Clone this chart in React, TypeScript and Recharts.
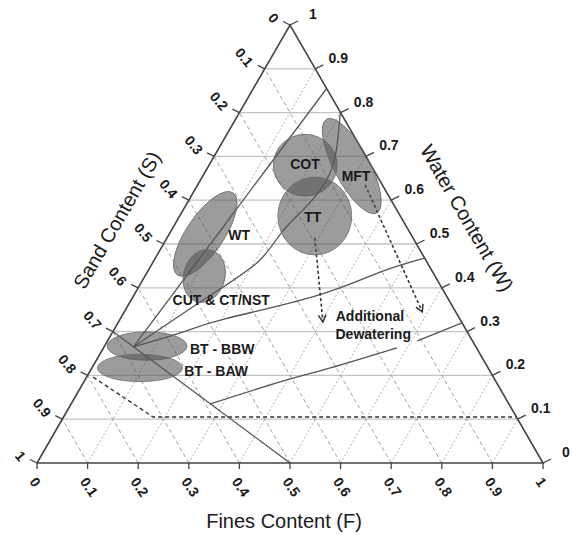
import { ComposedChart, XAxis, YAxis, Line, Scatter, ReferenceLine } from "recharts";

// ternary diagram: F = fines (bottom), W = water (vertical), S = sand = 1 - F - W
const CHART_W = 572;
const CHART_H = 535;
const MARGIN = { top: 25, right: 29, bottom: 72, left: 37 };
const PW = CHART_W - MARGIN.left - MARGIN.right;
const PH = CHART_H - MARGIN.top - MARGIN.bottom;

const TICKS = [0, 0.1, 0.2, 0.3, 0.4, 0.5, 0.6, 0.7, 0.8, 0.9, 1];
const TICK_LABELS = ["0", "0.1", "0.2", "0.3", "0.4", "0.5", "0.6", "0.7", "0.8", "0.9", "1"];
const GRID = [0.1, 0.2, 0.3, 0.4, 0.5, 0.6, 0.7, 0.8, 0.9];

// [F, W] points
const EDGE = [[0, 0], [1, 0], [0, 1], [0, 0]];
const LINE_L0 = [[0, 0.3], [0.5, 0]];
const LINE_A = [[0.058, 0.265], [0.145, 0.855]];
const CURVE_B = [
  [0.058, 0.265], [0.148, 0.379], [0.207, 0.459], [0.22, 0.525], [0.237, 0.578],
  [0.248, 0.623], [0.247, 0.669], [0.23, 0.726], [0.199, 0.801],
];
const CURVE_C = [[0.058, 0.265], [0.134, 0.297], [0.207, 0.329], [0.359, 0.381], [0.46, 0.436], [0.532, 0.468]];
const CURVE_E1 = [[0.275, 0.135], [0.388, 0.185], [0.471, 0.217], [0.58, 0.263]];
const CURVE_E2 = [[0.612, 0.279], [0.68, 0.32]];
const DASH_LIMIT = [[0.013, 0.196], [0.177, 0.105], [0.895, 0.105]];
const ARROW_TT = [[0.292, 0.514], [0.404, 0.322]];
const ARROW_MFT = [[0.331, 0.635], [0.589, 0.345]];

const ELLIPSES = [
  { name: "COT", f: 0.19, w: 0.68, a: 0.063, b: 0.061, angle: 0 },
  { name: "TT", f: 0.267, w: 0.564, a: 0.073, b: 0.077, angle: 0 },
  { name: "MFT", f: 0.283, w: 0.678, a: 0.105, b: 0.035, angle: 62 },
  { name: "WT", f: 0.071, w: 0.523, a: 0.098, b: 0.037, angle: -56 },
  { name: "CUT", f: 0.117, w: 0.427, a: 0.053, b: 0.041, angle: -75 },
  { name: "BBW", f: 0.084, w: 0.267, a: 0.079, b: 0.028, angle: 0 },
  { name: "BAW", f: 0.095, w: 0.217, a: 0.084, b: 0.027, angle: 0 },
];

const REGION_LABELS = [
  { text: "COT", f: 0.188, w: 0.683 },
  { text: "MFT", f: 0.303, w: 0.655 },
  { text: "TT", f: 0.264, w: 0.562 },
  { text: "WT", f: 0.139, w: 0.521 },
  { text: "CUT & CT/NST", f: 0.178, w: 0.372 },
  { text: "BT - BBW", f: 0.236, w: 0.26 },
  { text: "BT - BAW", f: 0.249, w: 0.21 },
  { text: "Additional", f: 0.49, w: 0.336 },
  { text: "Dewatering", f: 0.517, w: 0.295 },
];

const pt = ([f, w]: number[]) => ({ x: f + w / 2, y: w });

const FONT = "'Liberation Sans', Arial, sans-serif";
const INK = "#1a1a1a";

const seg = (a: number[], b: number[]) => [pt(a), pt(b)];

const gridSegs = [
  ...GRID.map((g) => ({ s: seg([0, g], [1 - g, g]), kind: "h" })),
  ...GRID.map((g) => ({ s: seg([g, 0], [g, 1 - g]), kind: "f" })),
  ...GRID.map((g) => ({ s: seg([1 - g, 0], [0, 1 - g]), kind: "s" })),
];

const gridStyle: Record<string, any> = {
  h: { stroke: "#c4c4c4", strokeWidth: 1.3 },
  f: { stroke: "#b0b0b0", strokeWidth: 1, strokeDasharray: "2 2" },
  s: { stroke: "#a0a0a0", strokeWidth: 1, strokeDasharray: "4 3" },
};

function arrowDot(data: { x: number; y: number }[]) {
  return (p: any) => {
    if (p.index !== data.length - 1) return <g key={p.index} />;
    const a = data[p.index - 1];
    const b = data[p.index];
    const ang = Math.atan2(-(b.y - a.y) * PH, (b.x - a.x) * PW);
    const len = 8;
    const s = 0.5;
    const p1 = [p.cx - len * Math.cos(ang - s), p.cy - len * Math.sin(ang - s)];
    const p2 = [p.cx - len * Math.cos(ang + s), p.cy - len * Math.sin(ang + s)];
    return (
      <path
        key={p.index}
        d={`M${p1[0]},${p1[1]}L${p.cx},${p.cy}L${p2[0]},${p2[1]}`}
        fill="none"
        stroke="#333"
        strokeWidth={1.5}
      />
    );
  };
}

const ellipseData = ELLIPSES.map((e) => ({ ...pt([e.f, e.w]), ...e }));
const labelData = REGION_LABELS.map((l) => ({ ...pt([l.f, l.w]), ...l }));
const bottomTicks = TICKS.map((t, i) => ({ ...pt([t, 0]), label: TICK_LABELS[i] }));
const leftTicks = TICKS.map((t, i) => ({ ...pt([0, 1 - t]), label: TICK_LABELS[i] }));
const rightTicks = TICKS.map((t, i) => ({ ...pt([1 - t, t]), label: TICK_LABELS[i] }));

const tickText = { fontFamily: FONT, fontSize: 14, fontWeight: 700, fill: INK };

export default function App() {
  const arrowTT = ARROW_TT.map(pt);
  const arrowMFT = ARROW_MFT.map(pt);
  return (
    <div style={{ position: "relative", width: CHART_W, height: CHART_H }}>
      <style>{"body{margin:0;background:#fff}"}</style>
      <ComposedChart width={CHART_W} height={CHART_H} margin={MARGIN}>
        <XAxis type="number" dataKey="x" domain={[0, 1]} hide />
        <YAxis type="number" dataKey="y" domain={[0, 1]} hide />
        {gridSegs.map((g, i) => (
          <ReferenceLine key={i} segment={g.s} ifOverflow="visible" {...gridStyle[g.kind]} />
        ))}
        <Scatter
          data={ellipseData}
          isAnimationActive={false}
          shape={(p: any) => (
            <ellipse
              cx={p.cx}
              cy={p.cy}
              rx={p.payload.a * PW}
              ry={p.payload.b * PW}
              transform={`rotate(${p.payload.angle} ${p.cx} ${p.cy})`}
              fill="#555"
              fillOpacity={0.58}
              stroke="#6a6a6a"
              strokeWidth={0.8}
            />
          )}
        />
        {[LINE_L0, LINE_A].map((d, i) => (
          <Line key={"l" + i} data={d.map(pt)} dataKey="y" type="linear" stroke="#555" strokeWidth={1.3} dot={false} isAnimationActive={false} />
        ))}
        {[CURVE_B, CURVE_C, CURVE_E1, CURVE_E2].map((d, i) => (
          <Line key={"c" + i} data={d.map(pt)} dataKey="y" type="natural" stroke="#555" strokeWidth={1.3} dot={false} isAnimationActive={false} />
        ))}
        <Line data={DASH_LIMIT.map(pt)} dataKey="y" type="linear" stroke="#333" strokeWidth={1.4} strokeDasharray="4 3" dot={false} isAnimationActive={false} />
        <Line data={arrowTT} dataKey="y" type="linear" stroke="#333" strokeWidth={1.6} strokeDasharray="3 2.5" dot={arrowDot(arrowTT)} isAnimationActive={false} />
        <Line data={arrowMFT} dataKey="y" type="linear" stroke="#333" strokeWidth={1.6} strokeDasharray="3 2.5" dot={arrowDot(arrowMFT)} isAnimationActive={false} />
        <Line data={EDGE.map(pt)} dataKey="y" type="linear" stroke="#444" strokeWidth={1.6} dot={false} isAnimationActive={false} />
        <Scatter
          data={labelData}
          isAnimationActive={false}
          shape={(p: any) => (
            <text x={p.cx} y={p.cy} textAnchor="middle" dominantBaseline="central" fontFamily={FONT} fontSize={14} fontWeight={700} fill={INK}>
              {p.payload.text}
            </text>
          )}
        />
        <Scatter
          data={bottomTicks}
          isAnimationActive={false}
          shape={(p: any) => (
            <g>
              <line x1={p.cx} y1={p.cy} x2={p.cx} y2={p.cy + 6} stroke="#444" strokeWidth={1.3} />
              <text x={p.cx - 4} y={p.cy + 16} textAnchor="start" dominantBaseline="central" transform={`rotate(55 ${p.cx - 4} ${p.cy + 16})`} {...tickText}>
                {p.payload.label}
              </text>
            </g>
          )}
        />
        <Scatter
          data={leftTicks}
          isAnimationActive={false}
          shape={(p: any) => (
            <g>
              <line x1={p.cx} y1={p.cy} x2={p.cx - 7} y2={p.cy - 3.5} stroke="#444" strokeWidth={1.3} />
              <text x={p.cx - 14} y={p.cy - 4} textAnchor="end" dominantBaseline="central" transform={`rotate(50 ${p.cx - 14} ${p.cy - 4})`} {...tickText}>
                {p.payload.label}
              </text>
            </g>
          )}
        />
        <Scatter
          data={rightTicks}
          isAnimationActive={false}
          shape={(p: any) => (
            <g>
              <line x1={p.cx} y1={p.cy} x2={p.cx + 8} y2={p.cy - 4} stroke="#444" strokeWidth={1.3} />
              <text x={p.cx + 23} y={p.cy - 11} textAnchor="middle" dominantBaseline="central" {...tickText}>
                {p.payload.label}
              </text>
            </g>
          )}
        />
      </ComposedChart>
      <svg width={CHART_W} height={CHART_H} style={{ position: "absolute", left: 0, top: 0, pointerEvents: "none" }}>
        <text x={284} y={528} textAnchor="middle" fontFamily={FONT} fontSize={20} fill={INK}>
          Fines Content (F)
        </text>
        <text x={117} y={220} textAnchor="middle" dominantBaseline="central" transform="rotate(-60 117 220)" fontFamily={FONT} fontSize={20} fill={INK}>
          Sand Content (S)
        </text>
        <text x={467} y={218} textAnchor="middle" dominantBaseline="central" transform="rotate(60 467 218)" fontFamily={FONT} fontSize={20} fill={INK}>
          Water Content (W)
        </text>
      </svg>
    </div>
  );
}
